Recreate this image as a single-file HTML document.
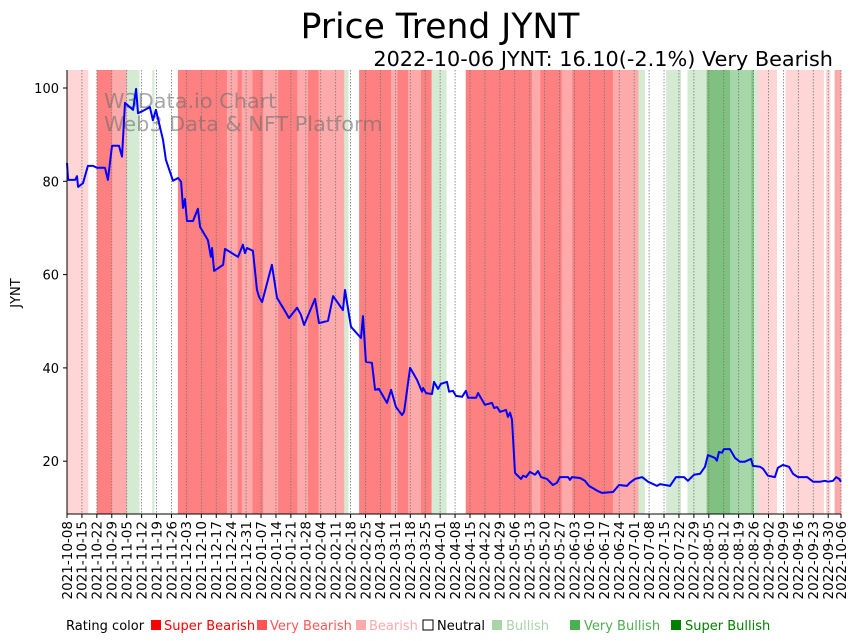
<!DOCTYPE html>
<html><head><meta charset="utf-8"><style>
body{margin:0;background:#fff;}
svg{display:block;font-family:"DejaVu Sans","Liberation Sans",sans-serif;}
</style></head><body>
<svg id="chart" width="859" height="641" viewBox="0 0 859 641">
<text x="440" y="38" font-size="34.5" text-anchor="middle" fill="#000">Price Trend JYNT</text>
<text x="833" y="66" font-size="20.8" text-anchor="end" fill="#000">2022-10-06 JYNT: 16.10(-2.1%) Very Bearish</text>
<g id="bands"></g>
<g id="grid"></g>
<text x="104" y="108" font-size="20.8" fill="rgba(110,110,110,0.6)">W3Data.io Chart</text>
<text x="104" y="131" font-size="20.8" fill="rgba(110,110,110,0.6)">Web3 Data &amp; NFT Platform</text>
<path id="priceLine" fill="none" stroke="#0000ff" stroke-width="2" stroke-linejoin="round"/>
<line x1="67" y1="70" x2="67" y2="514" stroke="#000" stroke-width="1"/>
<line x1="67" y1="514" x2="841" y2="514" stroke="#000" stroke-width="1"/>
<g id="yticks"></g>
<g id="xticks"></g>
<text transform="translate(20,293) rotate(-90)" font-size="13" text-anchor="middle">JYNT</text>
<g font-size="13">
<text x="66" y="630" fill="#000">Rating color</text>
<rect x="151" y="620" width="10" height="10" fill="#ff0000"/>
<text x="164" y="630" fill="#ff0000">Super Bearish</text>
<rect x="257" y="620" width="10" height="10" fill="#ff5555"/>
<text x="270" y="630" fill="#ff5555">Very Bearish</text>
<rect x="356" y="620" width="10" height="10" fill="#ffaaaa"/>
<text x="369" y="630" fill="#ffaaaa">Bearish</text>
<rect x="423" y="620" width="10" height="10" fill="#fff" stroke="#000"/>
<text x="437" y="630" fill="#000">Neutral</text>
<rect x="492" y="620" width="10" height="10" fill="#a8d5a8"/>
<text x="506" y="630" fill="#a8d5a8">Bullish</text>
<rect x="570" y="620" width="10" height="10" fill="#4caf50"/>
<text x="584" y="630" fill="#4caf50">Very Bullish</text>
<rect x="671" y="620" width="10" height="10" fill="#008000"/>
<text x="685" y="630" fill="#008000">Super Bullish</text>
</g>
</svg>
<script>
const priceDays=[0,0.5,3.8,4.7,5.2,7.5,9.8,12.2,14.1,17.8,19.2,21.1,24.4,25.8,27.2,31,32.4,33.3,35.6,38.9,40.3,41.7,45,46.4,49.7,52.1,53.5,54.4,55.3,56.3,59.1,61.4,62.4,66.1,67.5,68,69,73.2,74.1,80.2,82.5,83.5,84.4,87.2,89.1,90.1,91.5,96.1,98.5,101.3,104.1,107.9,109.7,111.2,116.3,118.2,122.4,124.8,129.4,130.4,133.2,137.9,138.8,140.2,143,144.5,146.3,150.1,152,154.3,157.1,158.1,160.9,164.2,166.5,167,168.4,171.2,172.1,174,175.4,178.2,179.2,181,182.4,185.3,187.1,188.1,191.8,192.8,196,199.3,200.3,201.7,203.1,205.9,206.8,207.8,208.7,210.1,212.9,213.9,215.3,217.1,219.5,220.9,222.3,225.1,227.9,229.8,231.2,235,235.9,236.8,240.6,242.9,244.8,249,250.9,256.1,258.9,262.6,264,266.4,269.7,272.5,276.7,278.1,282.8,285.6,289.4,291.2,294.1,296.9,299.2,300.6,303.9,304.8,305.8,307.2,308.1,310.9,313.3,315.6,317.9,320.8,321.7,325,326.4,328.7,332,333.4,335.8,338.6,340.5,342.8,347.1,349.9,353.2,355.5,356.9,359.3,360.7,362.1,363];
const priceValues=[83.9,80.3,80.3,81.1,78.8,79.6,83.3,83.3,82.9,82.9,80.3,87.6,87.6,85.3,96.8,95.3,99.8,94.6,95.1,95.9,93.1,95.3,88.9,84.6,80.1,80.7,79.9,74.3,76.2,71.5,71.5,74.1,70.2,67.4,63.8,65.7,60.8,62.1,65.5,63.8,66.4,64.6,65.7,65.1,56.7,55.2,54.1,62.1,55.0,52.9,50.7,52.9,51.4,49.2,54.8,49.6,50.1,55.4,52.4,56.7,48.8,46.4,51.1,41.3,41.1,35.3,35.5,32.5,35.3,31.6,29.9,30.6,40.0,37.4,34.9,35.7,34.6,34.4,37.0,35.5,36.6,37.0,34.9,35.1,34.0,33.8,35.1,33.6,33.6,34.6,32.1,32.5,31.4,31.6,30.6,31.0,29.5,30.4,28.9,17.5,16.2,16.9,16.6,17.7,17.1,17.9,16.6,16.2,14.9,15.4,16.6,16.6,16.0,16.6,16.4,15.8,14.7,13.6,13.2,13.4,14.9,14.7,15.4,16.2,16.6,15.6,14.7,15.1,14.7,16.6,16.6,15.8,17.1,17.3,18.8,21.3,20.7,20.1,22.0,21.8,22.6,22.6,20.7,19.9,19.9,20.5,19.0,18.8,18.4,16.9,16.6,18.6,19.2,18.8,17.3,16.6,16.6,15.6,15.6,15.8,15.6,15.8,16.6,16.2,15.6];
const bandStarts=[0,10,14,21,28,34,40,41,52,75,80,82,87,92,99,108,113,118,123,130,132,137,152,155,160,166,171,178,187,218,222,232,237,256,268,271,281,288,291,300,311,321,322,324,333,337,355,356,358,360];
const bandRatings=[-1,0,-3,-2,1,0,1,0,-3,-2,-3,-2,-3,-2,-3,-2,-3,-2,-2,1,0,-3,-2,-3,-2,-3,1,0,-3,-2,-3,-2,-3,-2,1,0,1,0,1,3,2,3,1,-1,0,-1,0,-1,0,-2];
const yTickValues=[20,40,60,80,100];
const startDate=new Date(Date.UTC(2021,9,8));
const totalDays=363;
const NS="http://www.w3.org/2000/svg";
const X0=67,X1=841,YTOP=70,YBOT=514;
function xScale(d){return X0+(X1-X0)*d/totalDays;}
function yScale(v){return 554.5-v*4.665;}
const ratingColors={"-3":"#ff8080","-2":"#ffaaaa","-1":"#ffd5d5","0":"#ffffff","1":"#d4ead3","2":"#a6d7a8","3":"#80c080"};
const bands=document.getElementById('bands');
for(let i=0;i<bandStarts.length;i++){
  const s=bandStarts[i],e=i+1<bandStarts.length?bandStarts[i+1]:totalDays;
  const r=document.createElementNS(NS,'rect');
  r.setAttribute('x',xScale(s));r.setAttribute('y',YTOP);
  r.setAttribute('width',xScale(e)-xScale(s)+0.3);r.setAttribute('height',YBOT-YTOP);
  r.setAttribute('fill',ratingColors[bandRatings[i]]);
  
  
  bands.appendChild(r);
}
const grid=document.getElementById('grid'),xt=document.getElementById('xticks');
const tickDays=[];
for(let d=0;d<=totalDays;d+=7)tickDays.push(d);
if(tickDays[tickDays.length-1]!==totalDays)tickDays.push(totalDays);
tickDays.forEach(d=>{
  const x=xScale(d);
  const g=document.createElementNS(NS,'line');
  g.setAttribute('x1',x);g.setAttribute('x2',x);g.setAttribute('y1',YTOP);g.setAttribute('y2',YBOT);
  g.setAttribute('stroke','#777');g.setAttribute('stroke-width','0.8');g.setAttribute('stroke-dasharray','1.5,1.5');
  
  
  grid.appendChild(g);
  const t=document.createElementNS(NS,'line');
  t.setAttribute('x1',x);t.setAttribute('x2',x);t.setAttribute('y1',YBOT);t.setAttribute('y2',YBOT+4);
  t.setAttribute('stroke','#000');
  
  
  xt.appendChild(t);
  const dt=new Date(startDate.getTime()+d*86400000);
  const lbl=dt.toISOString().slice(0,10);
  const tx=document.createElementNS(NS,'text');
  tx.setAttribute('transform','translate('+(x+4.8)+','+(YBOT+7)+') rotate(-90)');
  tx.setAttribute('text-anchor','end');tx.setAttribute('font-size','13.5');
  tx.textContent=lbl;
  
  
  xt.appendChild(tx);
});
const yt=document.getElementById('yticks');
yTickValues.forEach(v=>{
  const y=yScale(v);
  const t=document.createElementNS(NS,'line');
  t.setAttribute('x1',X0-4);t.setAttribute('x2',X0);t.setAttribute('y1',y);t.setAttribute('y2',y);t.setAttribute('stroke','#000');
  
  
  yt.appendChild(t);
  const tx=document.createElementNS(NS,'text');
  tx.setAttribute('x',X0-8);tx.setAttribute('y',y+5);tx.setAttribute('text-anchor','end');tx.setAttribute('font-size','13');
  tx.textContent=v;
  
  
  yt.appendChild(tx);
});
let dpath='';
priceDays.forEach((d,i)=>{dpath+=(i?'L':'M')+xScale(d).toFixed(1)+','+yScale(priceValues[i]).toFixed(1);});
document.getElementById('priceLine').setAttribute('d',dpath);
</script>
</body></html>
